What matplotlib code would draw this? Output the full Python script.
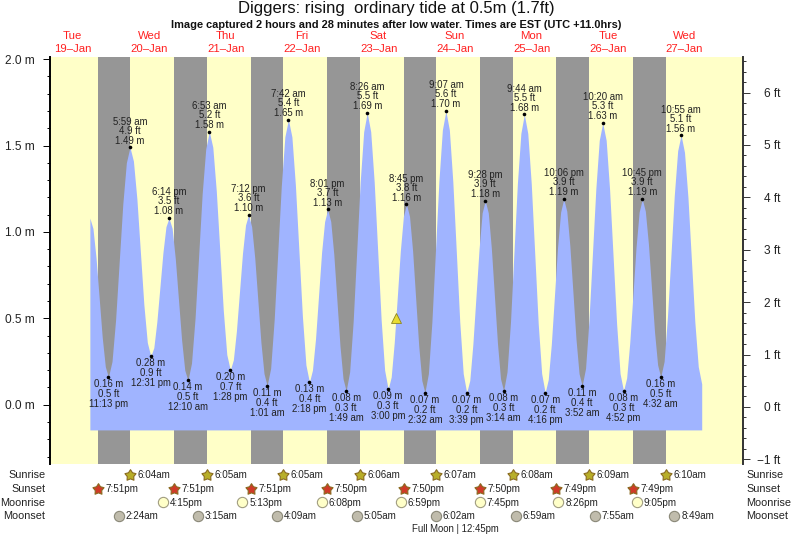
import matplotlib
matplotlib.use("Agg")
import matplotlib.pyplot as plt
from matplotlib.path import Path
from matplotlib.ticker import MultipleLocator, FixedLocator

plt.rcParams['font.family'] = ['Liberation Sans', 'DejaVu Sans']

# All times are hours after 00:00 on 19 Jan
tide_hours = [17.4, 18.37, 19.34, 20.31, 21.28, 22.25, 23.22,
              24.35, 25.47, 26.6, 27.73, 28.85, 29.98,
              31.07, 32.16, 33.25, 34.34, 35.43, 36.52,
              37.47, 38.42, 39.38, 40.33, 41.28, 42.23,
              43.22, 44.21, 45.2, 46.19, 47.18, 48.17,
              49.29, 50.41, 51.53, 52.64, 53.76, 54.88,
              55.98, 57.08, 58.18, 59.27, 60.37, 61.47,
              62.43, 63.38, 64.34, 65.29, 66.25, 67.2,
              68.17, 69.14, 70.11, 71.08, 72.05, 73.02,
              74.13, 75.25, 76.36, 77.47, 78.59, 79.7,
              80.8, 81.9, 83.0, 84.1, 85.2, 86.3,
              87.25, 88.21, 89.16, 90.11, 91.07, 92.02,
              92.99, 93.95, 94.92, 95.89, 96.85, 97.82,
              98.92, 100.02, 101.13, 102.23, 103.33, 104.43,
              105.53, 106.62, 107.72, 108.81, 109.9, 111.0,
              111.96, 112.92, 113.88, 114.83, 115.79, 116.75,
              117.71, 118.68, 119.64, 120.6, 121.57, 122.53,
              123.63, 124.73, 125.83, 126.92, 128.02, 129.12,
              130.21, 131.3, 132.39, 133.47, 134.56, 135.65,
              136.62, 137.59, 138.56, 139.53, 140.5, 141.47,
              142.43, 143.39, 144.35, 145.31, 146.27, 147.23,
              148.31, 149.4, 150.48, 151.56, 152.65, 153.73,
              154.82, 155.91, 157.0, 158.09, 159.18, 160.27,
              161.24, 162.21, 163.19, 164.16, 165.13, 166.1,
              167.06, 168.02, 168.99, 169.95, 170.91, 171.87,
              172.95, 174.02, 175.1, 176.18, 177.25, 178.33,
              179.42, 180.51, 181.6, 182.69, 183.78, 184.87,
              185.85, 186.83, 187.81, 188.79, 189.77, 190.75,
              191.71, 192.68, 193.64, 194.6, 195.57, 196.53,
              197.6, 198.66, 199.73, 200.79, 201.86, 202.92,
              204.0, 205.08, 206.16, 207.24, 208.32, 209.4]
tide_m = [1.08, 1.02, 0.85, 0.62, 0.39, 0.22, 0.16,
          0.25, 0.49, 0.825, 1.16, 1.40, 1.49,
          1.41, 1.19, 0.885, 0.58, 0.36, 0.28,
          0.33, 0.48, 0.68, 0.88, 1.03, 1.08,
          1.02, 0.845, 0.61, 0.375, 0.20, 0.14,
          0.24, 0.50, 0.86, 1.22, 1.48, 1.58,
          1.49, 1.235, 0.89, 0.545, 0.29, 0.20,
          0.26, 0.425, 0.65, 0.875, 1.04, 1.10,
          1.03, 0.85, 0.605, 0.36, 0.18, 0.11,
          0.21, 0.495, 0.88, 1.265, 1.55, 1.65,
          1.55, 1.27, 0.89, 0.51, 0.23, 0.13,
          0.20, 0.38, 0.63, 0.88, 1.06, 1.13,
          1.06, 0.87, 0.605, 0.34, 0.15, 0.08,
          0.19, 0.48, 0.885, 1.29, 1.58, 1.69,
          1.58, 1.29, 0.89, 0.49, 0.20, 0.09,
          0.16, 0.36, 0.625, 0.89, 1.09, 1.16,
          1.09, 0.89, 0.615, 0.34, 0.14, 0.07,
          0.18, 0.48, 0.885, 1.29, 1.59, 1.70,
          1.59, 1.29, 0.885, 0.48, 0.18, 0.07,
          0.14, 0.35, 0.625, 0.90, 1.11, 1.18,
          1.11, 0.905, 0.63, 0.355, 0.15, 0.08,
          0.19, 0.48, 0.88, 1.28, 1.57, 1.68,
          1.57, 1.28, 0.875, 0.47, 0.18, 0.07,
          0.145, 0.35, 0.63, 0.91, 1.115, 1.19,
          1.12, 0.92, 0.65, 0.38, 0.18, 0.11,
          0.21, 0.49, 0.87, 1.25, 1.53, 1.63,
          1.53, 1.24, 0.855, 0.47, 0.18, 0.08,
          0.155, 0.36, 0.635, 0.91, 1.115, 1.19,
          1.12, 0.93, 0.675, 0.42, 0.23, 0.16,
          0.25, 0.51, 0.86, 1.21, 1.47, 1.56,
          1.46, 1.20, 0.84, 0.48, 0.22, 0.12]

high_hours = [29.98, 42.23, 54.88, 67.2, 79.7, 92.02, 104.43, 116.75, 129.12, 141.47, 153.73, 166.1, 178.33, 190.75, 202.92]
high_m = [1.49, 1.08, 1.58, 1.10, 1.65, 1.13, 1.69, 1.16, 1.70, 1.18, 1.68, 1.19, 1.63, 1.19, 1.56]
high_ft = ['4.9', '3.5', '5.2', '3.6', '5.4', '3.7', '5.5', '3.8', '5.6', '3.9', '5.5', '3.9', '5.3', '3.9', '5.1']
high_times = ['5:59 am', '6:14 pm', '6:53 am', '7:12 pm', '7:42 am', '8:01 pm', '8:26 am', '8:45 pm',
              '9:07 am', '9:28 pm', '9:44 am', '10:06 pm', '10:20 am', '10:45 pm', '10:55 am']

low_hours = [23.22, 36.52, 48.17, 61.47, 73.02, 86.3, 97.82, 111.0, 122.53, 135.65, 147.23, 160.27, 171.87, 184.87, 196.53]
low_m = [0.16, 0.28, 0.14, 0.20, 0.11, 0.13, 0.08, 0.09, 0.07, 0.07, 0.08, 0.07, 0.11, 0.08, 0.16]
low_ft = ['0.5', '0.9', '0.5', '0.7', '0.4', '0.4', '0.3', '0.3', '0.2', '0.2', '0.3', '0.2', '0.4', '0.3', '0.5']
low_times = ['11:13 pm', '12:31 pm', '12:10 am', '1:28 pm', '1:01 am', '2:18 pm', '1:49 am', '3:00 pm',
             '2:32 am', '3:39 pm', '3:14 am', '4:16 pm', '3:52 am', '4:52 pm', '4:32 am']

day_names = ['Tue', 'Wed', 'Thu', 'Fri', 'Sat', 'Sun', 'Mon', 'Tue', 'Wed']
day_dates = ['19–Jan', '20–Jan', '21–Jan', '22–Jan', '23–Jan', '24–Jan', '25–Jan', '26–Jan', '27–Jan']
day_noon_hours = [12, 36, 60, 84, 108, 132, 156, 180, 204]

sunset_hours = [19.85, 43.85, 67.85, 91.83, 115.83, 139.83, 163.82, 187.82]
sunset_labels = ['7:51pm', '7:51pm', '7:51pm', '7:50pm', '7:50pm', '7:50pm', '7:49pm', '7:49pm']
sunrise_hours = [30.07, 54.08, 78.08, 102.1, 126.12, 150.13, 174.15, 198.17]
sunrise_labels = ['6:04am', '6:05am', '6:05am', '6:06am', '6:07am', '6:08am', '6:09am', '6:10am']
moonrise_hours = [40.25, 65.22, 90.13, 114.98, 139.75, 164.43, 189.08]
moonrise_labels = ['4:15pm', '5:13pm', '6:08pm', '6:59pm', '7:45pm', '8:26pm', '9:05pm']
moonset_hours = [26.4, 51.25, 76.15, 101.08, 126.03, 150.98, 175.92, 200.82]
moonset_labels = ['2:24am', '3:15am', '4:09am', '5:05am', '6:02am', '6:59am', '7:55am', '8:49am']

now_hour = 113.47
now_m = 0.5
tide_floor_m = -0.146

W, H = 793, 538
L, R, T, B = 50.0, 742.5, 56.7, 464.3
YEL, GRAY, BLUE, TXT = '#FFFFC8', '#969696', '#A0B4FF', '#222222'

fig = plt.figure(figsize=(W / 100, H / 100), dpi=100, facecolor='white')
ax = fig.add_axes([L / W, 1 - B / H, (R - L) / W, (B - T) / H], facecolor=YEL)
ax.set_xlim(4.89, 222.2)
ax.set_ylim(-0.345, 2.014)


def fy(py):
    return 1 - py / H


for s, r in zip(sunset_hours, sunrise_hours):
    ax.axvspan(s, r, color=GRAY, lw=0, zorder=1)
ax.fill_between(tide_hours, tide_m, tide_floor_m, color=BLUE, lw=0, zorder=2)
ax.plot(high_hours + low_hours, high_m + low_m, 'o', color='black', ms=2.6, mew=0, zorder=4)
ax.plot([now_hour], [now_m], '^', ms=7.5, mfc='#E8DC30', mec='#8C8420', mew=0.6, zorder=5)


def lab(x, y, dy, s):
    ax.annotate(s, (x, y), xytext=(0, -dy * 0.72), textcoords='offset points', ha='center', va='center',
                fontsize=6.9, color=TXT, zorder=6)


for x, y, ft, t in zip(high_hours, high_m, high_ft, high_times):
    lab(x, y, -6.6, f'{y:.2f} m')
    lab(x, y, -16.6, f'{ft} ft')
    lab(x, y, -25.6, t)
for x, y, ft, t in zip(low_hours, low_m, low_ft, low_times):
    lab(x, y, 7, f'{y:.2f} m')
    lab(x, y, 17, f'{ft} ft')
    lab(x, y, 27, t)

for s in ('top', 'bottom', 'right'):
    ax.spines[s].set_visible(False)
ax.spines['left'].set_linewidth(1.4)
ax.set_xticks([])
ax.yaxis.set_major_locator(FixedLocator([0, 0.5, 1.0, 1.5, 2.0]))
ax.yaxis.set_minor_locator(MultipleLocator(0.1))
ax.set_yticklabels(['0.0 m', '0.5 m', '1.0 m', '1.5 m', '2.0 m'])
ax.tick_params(axis='y', which='major', length=5, width=0.7, pad=5.8, labelsize=8.6, labelcolor=TXT)
ax.tick_params(axis='y', which='minor', length=2.2, width=0.7)

ax2 = ax.twinx()
ax2.set_ylim(-1.094, 6.685)
for s in ('top', 'bottom', 'left'):
    ax2.spines[s].set_visible(False)
ax2.spines['right'].set_linewidth(1.4)
ax2.spines['right'].set_color('#333333')
ax2.yaxis.set_major_locator(FixedLocator(list(range(-1, 7))))
ax2.yaxis.set_minor_locator(MultipleLocator(0.2))
ax2.set_yticklabels(['−1 ft', '0 ft', '1 ft', '2 ft', '3 ft', '4 ft', '5 ft', '6 ft'], ha='right')
ax2.tick_params(axis='y', which='major', length=5, width=0.7, pad=22, labelsize=8.6,
                labelcolor=TXT, color='#333333')
ax2.tick_params(axis='y', which='minor', length=2.2, width=0.7, color='#333333')

fig.text(396.5 / W, fy(9), 'Diggers: rising  ordinary tide at 0.5m (1.7ft)', ha='center', va='center',
         fontsize=11.95, color='#111111')
fig.text(396.5 / W, fy(24.5), 'Image captured 2 hours and 28 minutes after low water. Times are EST (UTC +11.0hrs)',
         ha='center', va='center', fontsize=7.9, fontweight='bold', color='#111111')

xt = ax.get_xaxis_transform()


def ax_y(py):
    return (B - py) / (B - T)


for x, a, b in zip(day_noon_hours, day_names, day_dates):
    ax.text(x, ax_y(36), a, transform=xt, ha='center', va='center', fontsize=8.2, color='#FF2020', clip_on=False)
    ax.text(x, ax_y(48.5), b, transform=xt, ha='center', va='center', fontsize=8.2, color='#FF2020', clip_on=False)

fat_star = Path.unit_regular_star(5, innerCircle=0.58)


def events(hours, labels, py, marker, ms, mfc, mec, dx):
    ax.plot(hours, [ax_y(py)] * len(hours), linestyle='none', marker=marker, transform=xt, ms=ms, mfc=mfc, mec=mec,
            mew=0.8, clip_on=False, zorder=7)
    for x, s in zip(hours, labels):
        ax.annotate(s, (x, ax_y(py + 0.5)), xycoords=xt, xytext=(dx * 0.72, 0), textcoords='offset points',
                    ha='left', va='center', fontsize=7.1, color=TXT, annotation_clip=False)


events(sunrise_hours, sunrise_labels, 474.5, fat_star, 8.4, '#B8AE28', '#8A6A20', 7.5)
events(sunset_hours, sunset_labels, 488.5, fat_star, 8.4, '#D03A28', '#8A6A20', 7.5)
events(moonrise_hours, moonrise_labels, 502, 'o', 7.4, '#FFFFC8', '#A09C80', 7)
events(moonset_hours, moonset_labels, 515.5, 'o', 7.4, '#C0BCAC', '#8A8878', 6.8)

rows = [('Sunrise', 475), ('Sunset', 489), ('Moonrise', 502.5), ('Moonset', 516)]
for name, py in rows:
    fig.text(45.5 / W, fy(py), name, ha='right', va='center', fontsize=7.8, color=TXT)
    fig.text(746.5 / W, fy(py), name, ha='left', va='center', fontsize=7.8, color=TXT)
fig.text(455 / W, fy(529.5), 'Full Moon | 12:45pm', ha='center', va='center', fontsize=6.9, color=TXT)

fig.savefig('out.png', dpi=100)
